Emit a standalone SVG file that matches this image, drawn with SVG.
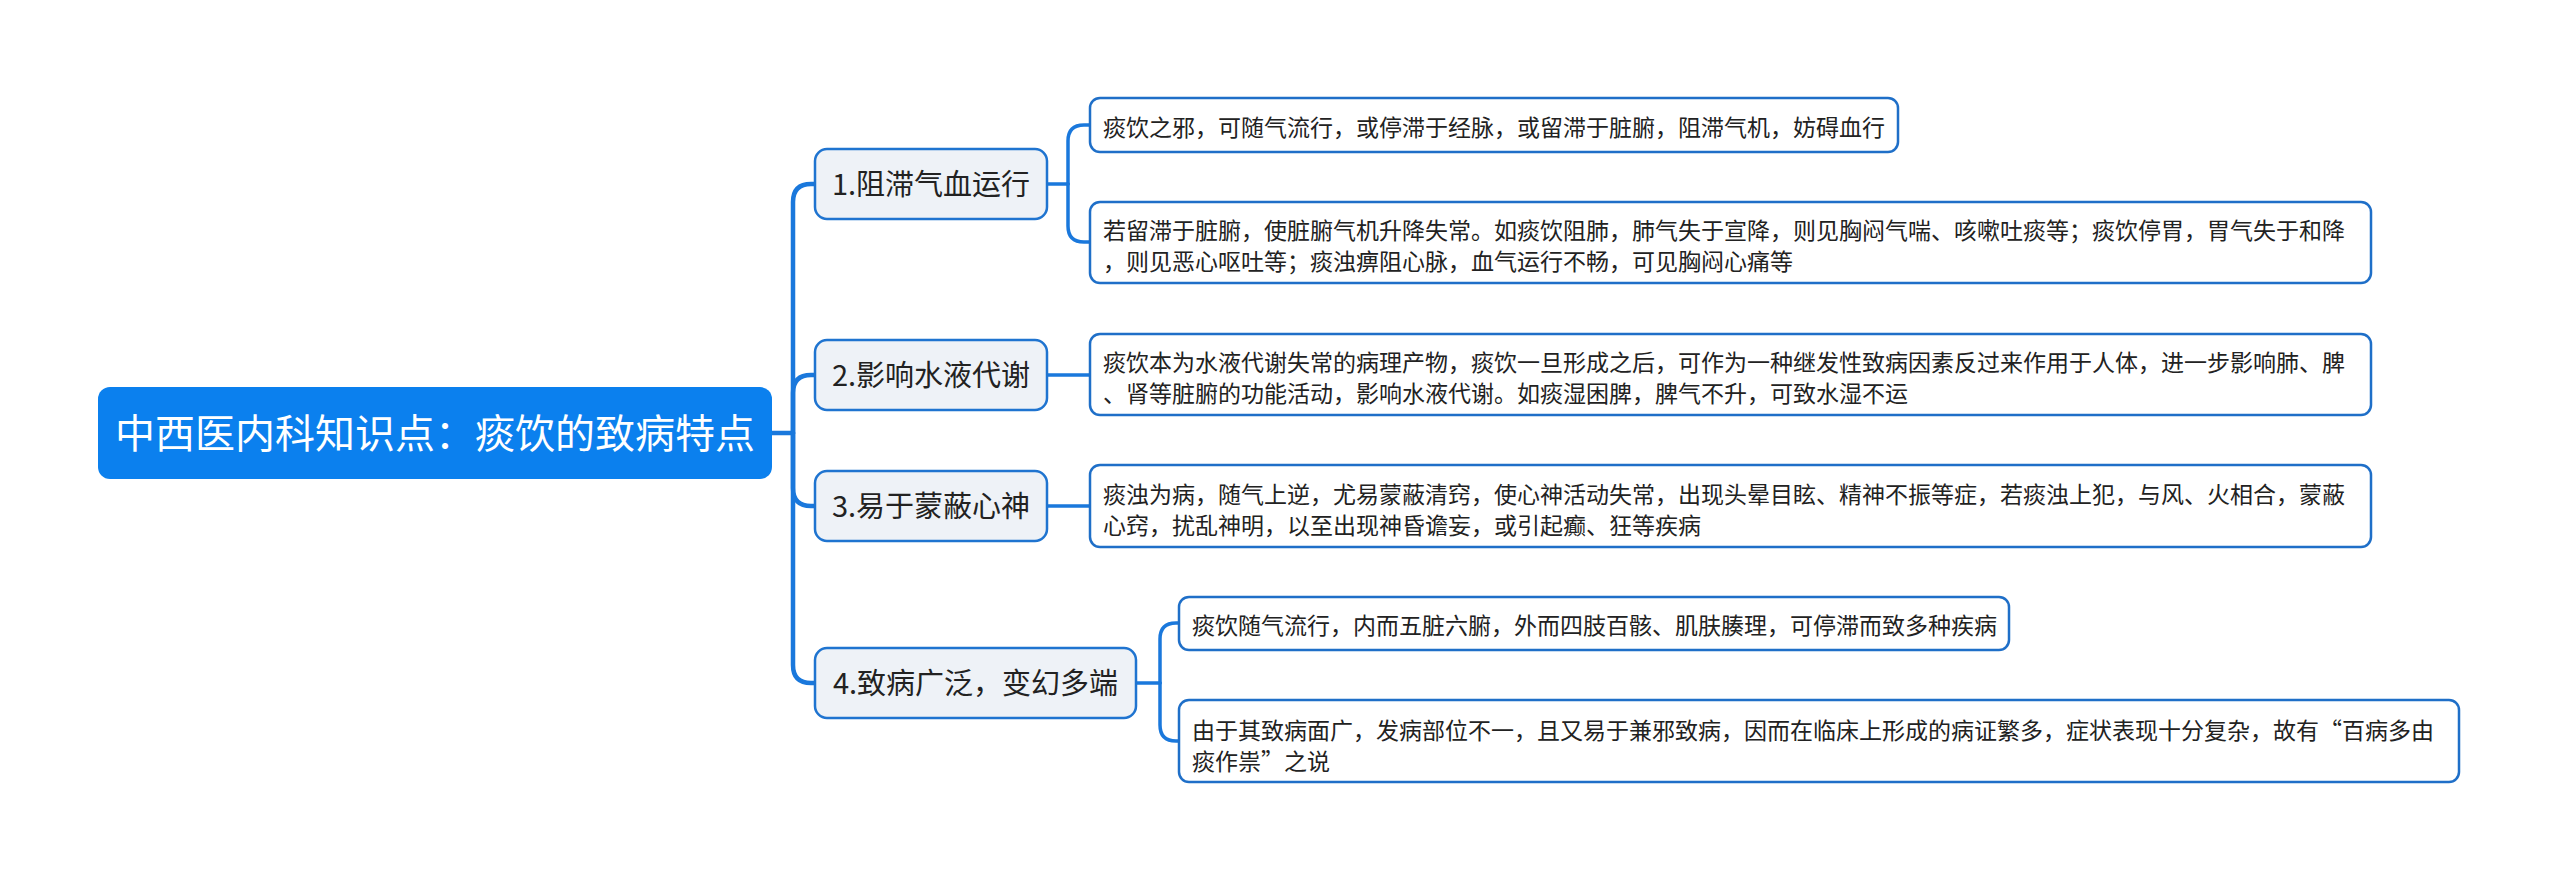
<svg xmlns="http://www.w3.org/2000/svg" width="2560" height="881" viewBox="0 0 2560 881">
<style>
.root{fill:#0b80ee;}
.rootText{font-family:"Noto Sans CJK SC","Noto Sans",sans-serif;font-size:40px;fill:#ffffff;}
.l1{fill:#eef2f7;stroke:#1f74d0;stroke-width:2.5;}
.l1Text{font-family:"Noto Sans CJK SC","Noto Sans",sans-serif;font-size:29px;fill:#222222;}
.l2{fill:#ffffff;stroke:#1f6fc8;stroke-width:2.5;}
.l2Text{font-family:"Noto Sans CJK SC","Noto Sans",sans-serif;font-size:23px;fill:#222222;}
.c1{fill:none;stroke:#1a78dc;stroke-width:4.5;stroke-linecap:round;}
.c2{fill:none;stroke:#1a78dc;stroke-width:3.5;stroke-linecap:round;}
</style>
<rect width="2560" height="881" fill="#ffffff"/>
<g id="connectors">
<path class="c1" d="M772 433 H793"/>
<path class="c1" d="M793 433 V202 Q793 184 811 184 H815"/>
<path class="c1" d="M793 433 V393 Q793 375 811 375 H815"/>
<path class="c1" d="M793 433 V488 Q793 506 811 506 H815"/>
<path class="c1" d="M793 433 V665 Q793 683 811 683 H815"/>
<path class="c2" d="M1047 184 H1068"/>
<path class="c2" d="M1068 184 V141 Q1068 125 1084 125 H1090"/>
<path class="c2" d="M1068 184 V226 Q1068 242 1084 242 H1090"/>
<path class="c2" d="M1047 375 H1090"/>
<path class="c2" d="M1047 506 H1090"/>
<path class="c2" d="M1136 683 H1160"/>
<path class="c2" d="M1160 683 V639 Q1160 623 1176 623 H1179"/>
<path class="c2" d="M1160 683 V725 Q1160 741 1176 741 H1179"/>
</g>
<g id="root">
<rect class="root" x="98" y="387" width="674" height="92" rx="12"/>
<text class="rootText" x="435" y="448" text-anchor="middle">中西医内科知识点：痰饮的致病特点</text>
</g>
<g id="n1">
<rect class="l1" x="815" y="149" width="232" height="70" rx="12"/>
<text class="l1Text" x="931" y="195" text-anchor="middle">1.阻滞气血运行</text>
</g>
<g id="n2">
<rect class="l1" x="815" y="340" width="232" height="70" rx="12"/>
<text class="l1Text" x="931" y="386" text-anchor="middle">2.影响水液代谢</text>
</g>
<g id="n3">
<rect class="l1" x="815" y="471" width="232" height="70" rx="12"/>
<text class="l1Text" x="931" y="517" text-anchor="middle">3.易于蒙蔽心神</text>
</g>
<g id="n4">
<rect class="l1" x="815" y="648" width="321" height="70" rx="12"/>
<text class="l1Text" x="975.5" y="694" text-anchor="middle">4.致病广泛，变幻多端</text>
</g>
<g id="n1a">
<rect class="l2" x="1090" y="98" width="808" height="54" rx="10"/>
<text class="l2Text" x="1103" y="136">痰饮之邪，可随气流行，或停滞于经脉，或留滞于脏腑，阻滞气机，妨碍血行</text>
</g>
<g id="n1b">
<rect class="l2" x="1090" y="202" width="1281" height="81" rx="10"/>
<text class="l2Text" x="1103" y="239">若留滞于脏腑，使脏腑气机升降失常。如痰饮阻肺，肺气失于宣降，则见胸闷气喘、咳嗽吐痰等；痰饮停胃，胃气失于和降</text>
<text class="l2Text" x="1103" y="270">，则见恶心呕吐等；痰浊痹阻心脉，血气运行不畅，可见胸闷心痛等</text>
</g>
<g id="n2a">
<rect class="l2" x="1090" y="334" width="1281" height="81" rx="10"/>
<text class="l2Text" x="1103" y="371">痰饮本为水液代谢失常的病理产物，痰饮一旦形成之后，可作为一种继发性致病因素反过来作用于人体，进一步影响肺、脾</text>
<text class="l2Text" x="1103" y="402">、肾等脏腑的功能活动，影响水液代谢。如痰湿困脾，脾气不升，可致水湿不运</text>
</g>
<g id="n3a">
<rect class="l2" x="1090" y="465" width="1281" height="82" rx="10"/>
<text class="l2Text" x="1103" y="503">痰浊为病，随气上逆，尤易蒙蔽清窍，使心神活动失常，出现头晕目眩、精神不振等症，若痰浊上犯，与风、火相合，蒙蔽</text>
<text class="l2Text" x="1103" y="534">心窍，扰乱神明，以至出现神昏谵妄，或引起癫、狂等疾病</text>
</g>
<g id="n4a">
<rect class="l2" x="1179" y="597" width="830" height="53" rx="10"/>
<text class="l2Text" x="1192" y="634">痰饮随气流行，内而五脏六腑，外而四肢百骸、肌肤腠理，可停滞而致多种疾病</text>
</g>
<g id="n4b">
<rect class="l2" x="1179" y="700" width="1280" height="82" rx="10"/>
<text class="l2Text" x="1192" y="739">由于其致病面广，发病部位不一，且又易于兼邪致病，因而在临床上形成的病证繁多，症状表现十分复杂，故有“百病多由</text>
<text class="l2Text" x="1192" y="770">痰作祟”之说</text>
</g>
</svg>
